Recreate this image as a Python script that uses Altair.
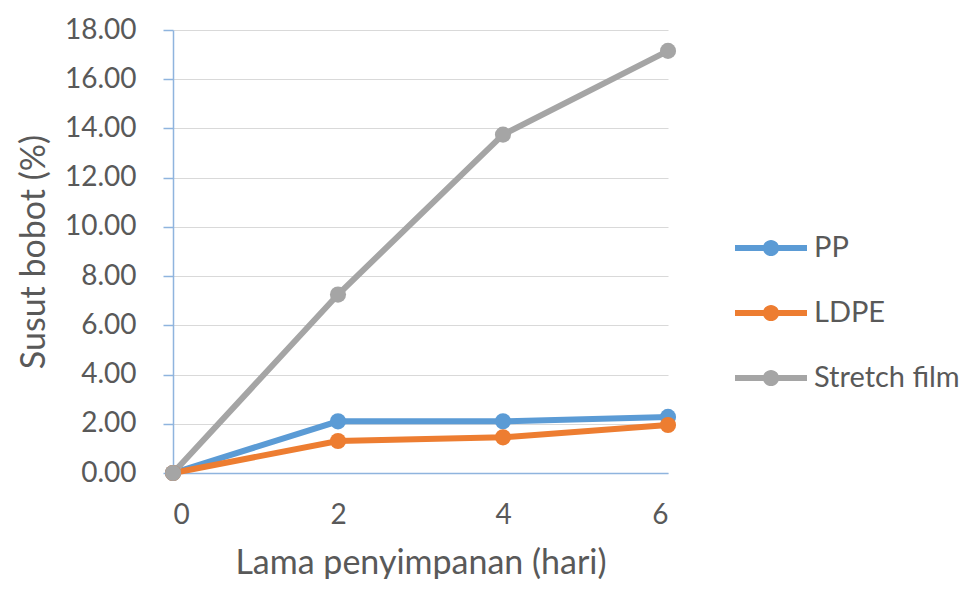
import altair as alt
import pandas as pd

days = [0, 2, 4, 6]
pp = [0.0, 2.10, 2.10, 2.28]
ldpe = [0.0, 1.30, 1.45, 1.95]
stretch = [0.0, 7.25, 13.75, 17.15]
series = ["PP", "LDPE", "Stretch film"]
colors = ["#5B9BD5", "#ED7D31", "#A5A5A5"]

rows = []
for name, vals in zip(series, [pp, ldpe, stretch]):
    for d, v in zip(days, vals):
        rows.append({"day": d, "value": v, "series": name})
df = pd.DataFrame(rows)

FONT = "Lato"
TXT = "#595959"
# line-with-dot legend glyph
LEGEND_SYMBOL = ("M-1.2,-0.1 L1.2,-0.1 L1.2,0.1 L-1.2,0.1 Z "
                 "M-0.27,0 A0.27,0.27 0 1,1 0.27,0 A0.27,0.27 0 1,1 -0.27,0 Z")

chart = alt.Chart(df).mark_line(
    strokeWidth=6,
    point=alt.OverlayMarkDef(filled=True, size=260, opacity=1),
).encode(
    x=alt.X("day:Q", title="Lama penyimpanan (hari)",
            scale=alt.Scale(domain=[0, 6], nice=False),
            axis=alt.Axis(values=days, format="d", grid=False, tickSize=0,
                          labelPadding=28, labelFontSize=28, titleFontSize=34,
                          titlePadding=17, domainColor="#8FB4DE", domainWidth=1.5)),
    y=alt.Y("value:Q", title="Susut bobot (%)",
            scale=alt.Scale(domain=[0, 18], nice=False),
            axis=alt.Axis(values=[0, 2, 4, 6, 8, 10, 12, 14, 16, 18], format=".2f",
                          tickSize=10, tickColor="#8FB4DE", tickWidth=1.5,
                          labelPadding=27, labelFontSize=28, titleFontSize=34,
                          titleX=-139, titleBaseline="middle",
                          domainColor="#8FB4DE", domainWidth=1.5,
                          gridColor="#D9D9D9", gridWidth=1)),
    color=alt.Color("series:N", sort=series,
                    scale=alt.Scale(domain=series, range=colors),
                    legend=alt.Legend(title=None, orient="none", legendX=568, legendY=188,
                                      labelFontSize=29, symbolType=LEGEND_SYMBOL,
                                      symbolSize=3600, symbolStrokeWidth=0,
                                      rowPadding=20, labelOffset=13)),
    order="day:Q",
).properties(
    width=495, height=443,
    autosize=alt.AutoSizeParams(type="none"),
    padding={"left": 165, "top": 22, "right": 300, "bottom": 106},
).configure_axis(
    labelFont=FONT, titleFont=FONT, labelColor=TXT, titleColor=TXT, titleFontWeight="normal",
).configure_legend(
    labelFont=FONT, labelColor=TXT,
).configure_view(stroke=None)

chart.save("out.html", embed_options={"renderer": "svg", "actions": False})
